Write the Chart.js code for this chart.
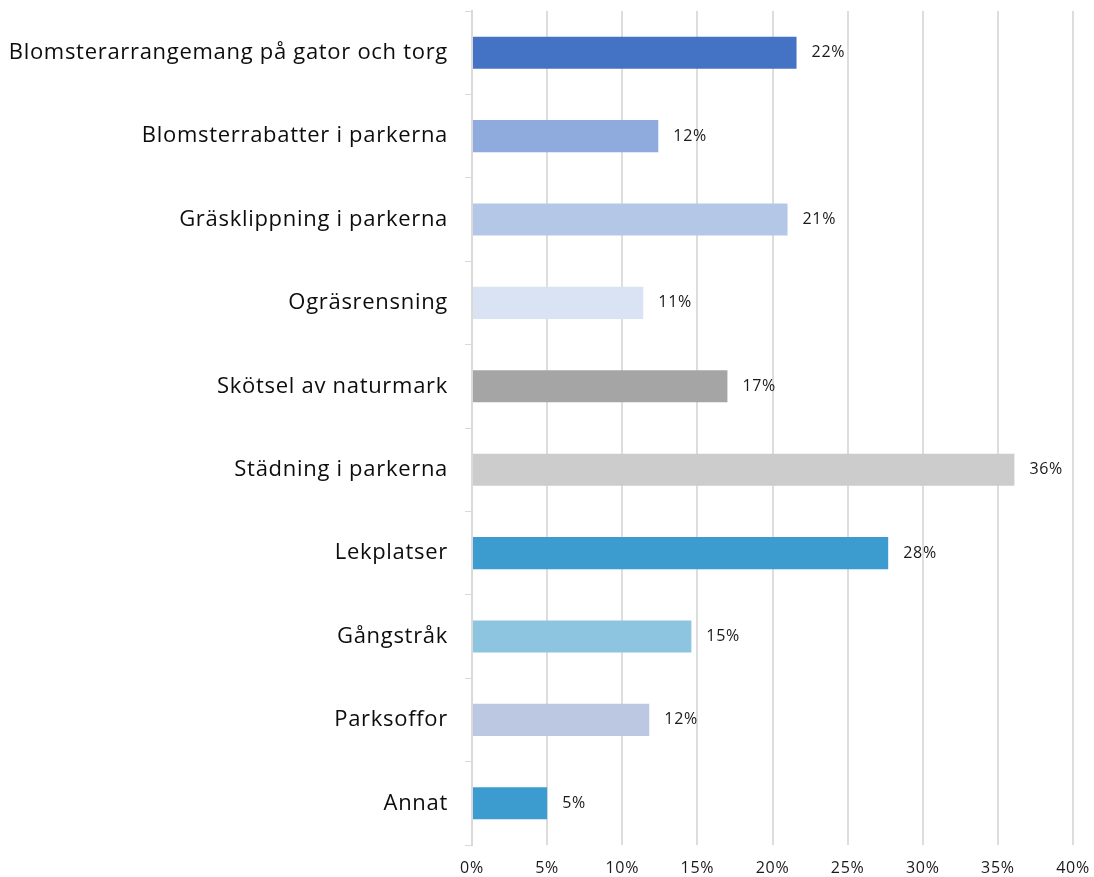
<!DOCTYPE html>
<html>
<head>
<meta charset="utf-8">
<script src="https://cdn.jsdelivr.net/npm/chart.js@4.4.1/dist/chart.umd.min.js"></script>
<style>
  html, body { margin: 0; padding: 0; background: #ffffff; }
  #wrap { width: 1094px; height: 877px; position: relative; }
</style>
</head>
<body>
<div id="wrap"><canvas id="c" width="1094" height="877"></canvas></div>
<script>
const categories = [
  "Blomsterarrangemang på gator och torg",
  "Blomsterrabatter i parkerna",
  "Gräsklippning i parkerna",
  "Ogräsrensning",
  "Skötsel av naturmark",
  "Städning i parkerna",
  "Lekplatser",
  "Gångstråk",
  "Parksoffor",
  "Annat"
];
const values = [21.6, 12.4, 21.0, 11.4, 17.0, 36.1, 27.7, 14.6, 11.8, 5.0];
const barColors = ["#4472C4", "#8FAADC", "#B4C7E7", "#DAE3F3", "#A5A5A5", "#CCCCCC", "#3C9BCF", "#8DC4E0", "#BCC8E1", "#3C9BCF"];
const xTicks = [0, 5, 10, 15, 20, 25, 30, 35, 40];

const FONT = "'Open Sans', 'Noto Sans', sans-serif";
const SPACING = "0.7px";

const spacingPlugin = {
  id: 'spacing',
  beforeLayout(chart) { chart.ctx.letterSpacing = SPACING; },
  beforeDraw(chart) { chart.ctx.letterSpacing = SPACING; }
};

const valueLabels = {
  id: 'valueLabels',
  afterDatasetsDraw(chart) {
    const ctx = chart.ctx;
    const meta = chart.getDatasetMeta(0);
    ctx.save();
    ctx.letterSpacing = SPACING;
    ctx.font = "16px " + FONT;
    ctx.fillStyle = "#1a1a1a";
    ctx.textAlign = "left";
    ctx.textBaseline = "middle";
    meta.data.forEach((bar, i) => {
      ctx.fillText(Math.round(values[i]) + "%", bar.x + 15, bar.y);
    });
    ctx.restore();
  }
};

new Chart(document.getElementById('c'), {
  type: 'bar',
  data: {
    labels: categories,
    datasets: [{
      data: values,
      backgroundColor: barColors,
      borderWidth: 0,
      barPercentage: 1,
      categoryPercentage: 0.385
    }]
  },
  plugins: [spacingPlugin, valueLabels],
  options: {
    indexAxis: 'y',
    responsive: false,
    animation: false,
    layout: { padding: { top: 11, right: 21, bottom: 0, left: 0 } },
    plugins: {
      legend: { display: false },
      title: { display: false },
      tooltip: { enabled: false }
    },
    scales: {
      x: {
        min: 0,
        max: 40,
        afterBuildTicks(scale) { scale.ticks = xTicks.map(v => ({ value: v })); },
        afterFit(scale) { scale.height = 32; scale.paddingLeft = 0; scale.paddingRight = 0; },
        grid: { color: "#DDDDDD", lineWidth: 2, drawTicks: false },
        border: { display: false },
        ticks: {
          padding: 14,
          color: "#1a1a1a",
          font: { family: FONT, size: 16 },
          maxRotation: 0,
          callback: (v) => v + "%"
        }
      },
      y: {
        afterFit(scale) { scale.width = 472; scale.paddingTop = 0; scale.paddingBottom = 0; },
        grid: { color: "#D9D9D9", lineWidth: 1, drawOnChartArea: false, tickLength: 7, offset: true },
        border: { color: "#D9D9D9", width: 2 },
        ticks: {
          padding: 17,
          color: "#0d0d0d",
          font: { family: FONT, size: 22 },
          autoSkip: false
        }
      }
    }
  }
});
</script>
</body>
</html>
